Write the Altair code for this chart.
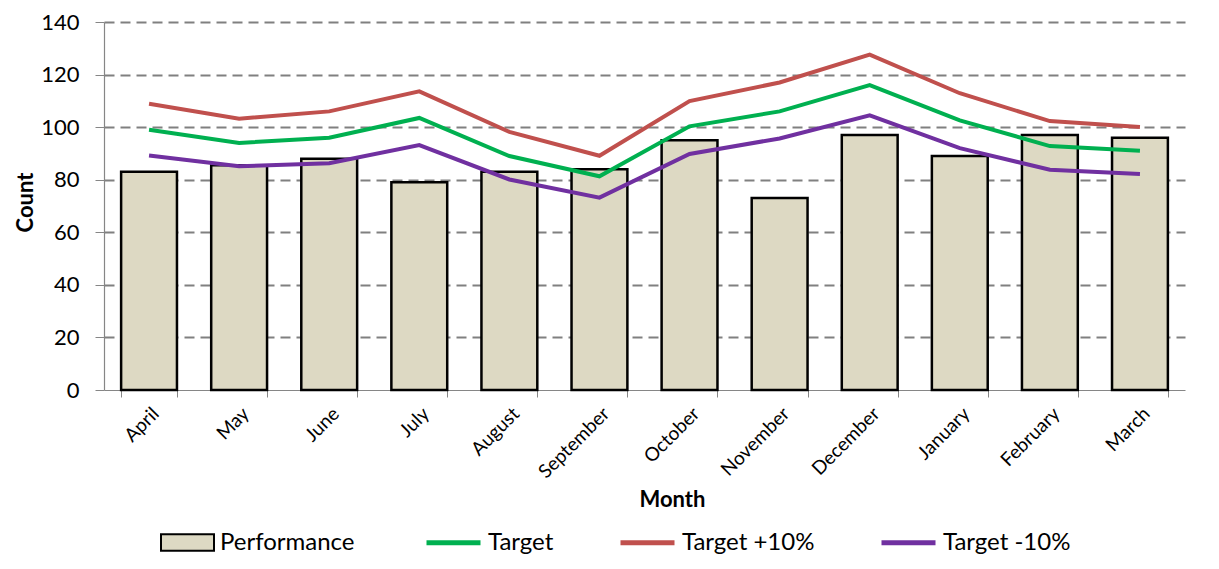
import altair as alt
import pandas as pd

months = ["April", "May", "June", "July", "August", "September",
          "October", "November", "December", "January", "February", "March"]
performance = [83, 85.5, 88, 79, 83, 84, 95, 73, 97, 89, 97, 96]
target = [99, 94, 96, 103.5, 89, 81.3, 100.3, 106, 116, 102.6, 92.8, 91]
target_plus = [108.9, 103.2, 106, 113.6, 98.2, 89.1, 109.9, 117, 127.6, 112.9, 102.3, 100.1]
target_minus = [89.2, 85.1, 86.3, 93.2, 80.1, 73.2, 89.8, 95.7, 104.5, 92, 83.8, 82.2]

line_series = ["Target", "Target +10%", "Target -10%"]
line_colors = ["#00B050", "#C0504D", "#7030A0"]
y_ticks = [0, 20, 40, 60, 80, 100, 120, 140]

FONT = "Lato"

bar_df = pd.DataFrame({"Month": months, "Count": performance,
                       "Series": ["Performance"] * len(months)})
line_df = pd.DataFrame({
    "Month": months * 3,
    "Count": target + target_plus + target_minus,
    "Series": [s for s in line_series for _ in months],
    "idx": list(range(len(months))) * 3,
})

x_enc = alt.X(
    "Month:N", sort=months,
    scale=alt.Scale(paddingInner=0.38, paddingOuter=0.19),
    axis=alt.Axis(
        title="Month", titleFont=FONT, titleFontSize=22, titleFontWeight="bold",
        titleColor="#000000", titleX=568, titleY=99, titleBaseline="top",
        labelFont=FONT, labelFontSize=19, labelColor="#000000", labelAngle=-45,
        labelPadding=7, tickBand="extent", tickSize=7, tickColor="#868686",
        domainColor="#868686", domainWidth=1.2, grid=False,
    ),
)
y_enc = alt.Y(
    "Count:Q",
    scale=alt.Scale(domain=[0, 140], nice=False),
    axis=alt.Axis(
        values=y_ticks, title="Count", titleFont=FONT, titleFontSize=22,
        titleFontWeight="bold", titleColor="#000000", titleX=-79, titleY=180,
        titleBaseline="middle",
        labelFont=FONT, labelFontSize=22, labelColor="#000000", labelPadding=16,
        tickSize=9, tickColor="#868686", domainColor="#868686", domainWidth=1.2,
        grid=True, gridDash=[10, 6], gridColor="#808080", gridWidth=2,
        gridOpacity={"condition": {"test": "datum.value === 0", "value": 0}, "value": 1},
    ),
)

bars = alt.Chart(bar_df).mark_bar(stroke="black", strokeWidth=2.5).encode(
    x=x_enc, y=y_enc,
    fill=alt.Fill(
        "Series:N",
        scale=alt.Scale(domain=["Performance"], range=["#DDD9C3"]),
        legend=alt.Legend(
            title=None, orient="none", legendX=56, legendY=493, padding=0,
            symbolType="M-1,-0.31H1V0.31H-1Z", symbolSize=2809,
            symbolStrokeColor="black", symbolStrokeWidth=2,
            labelFont=FONT, labelFontSize=24, labelColor="#000000", labelOffset=5,
        ),
    ),
)

lines = alt.Chart(line_df).mark_line(strokeWidth=4).encode(
    x=x_enc, y=y_enc,
    order=alt.Order("idx:Q"),
    stroke=alt.Stroke(
        "Series:N",
        scale=alt.Scale(domain=line_series, range=line_colors),
        legend=alt.Legend(
            title=None, orient="none", legendX=320, legendY=491, padding=0,
            direction="horizontal", columns=3, columnPadding=56,
            symbolType="stroke", symbolSize=2916, symbolStrokeWidth=5,
            labelFont=FONT, labelFontSize=24, labelColor="#000000", labelOffset=5,
        ),
    ),
)

chart = alt.layer(bars, lines).resolve_scale(fill="independent", stroke="independent").properties(
    width=1081, height=368,
    autosize=alt.AutoSizeParams(type="none"),
    padding={"left": 96, "top": 14, "right": 26, "bottom": 171},
).configure_view(strokeWidth=0)

chart.save("out.html", embed_options={"renderer": "svg", "actions": False})
